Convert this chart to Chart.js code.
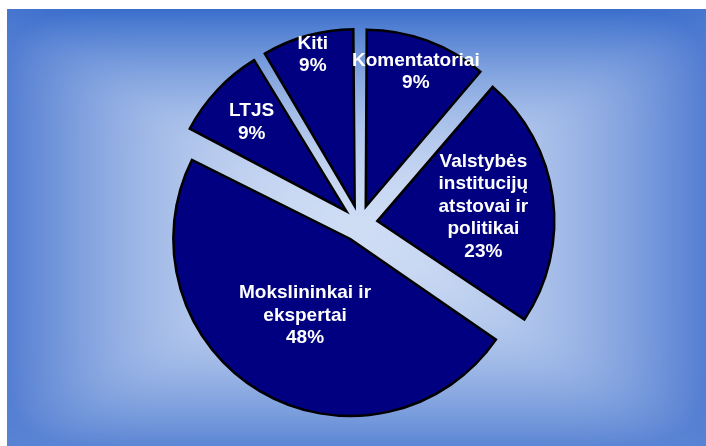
<!DOCTYPE html>
<html>
<head>
<meta charset="utf-8">
<script src="https://cdn.jsdelivr.net/npm/chart.js@4"></script>
<style>
  html, body { margin: 0; padding: 0; background: #fff; }
  #wrap { position: relative; width: 706px; height: 446px; }
</style>
</head>
<body>
<div id="wrap"><canvas id="chart" width="706" height="446"></canvas></div>
<script>
// slices clockwise from 12 o'clock
const categories = [
  'Komentatoriai',
  ['Valstybės', 'institucijų', 'atstovai ir', 'politikai'],
  ['Mokslininkai ir', 'ekspertai'],
  'LTJS',
  'Kiti'
];
// slice sizes as measured on the picture (angles), printed labels below
const sliceShares = [11.3, 23.1, 48.2, 8.8, 8.6];
const shareLabels = ['9%', '23%', '48%', '9%', '9%'];

const PIE_RADIUS = 177;
const EXPLODE = 72;            // chart.js shifts a slice by offset / 4
const labelDist = [162, 125, 107, 148, 175];
const LINE_H = 22.5;

// rectangular "from centre" gradient behind the pie
let bgCache = null;
const backdrop = {
  id: 'backdrop',
  beforeDraw(chart) {
    const ctx = chart.ctx;
    const W = chart.width, H = chart.height;
    if (!bgCache) {
      bgCache = ctx.createImageData(W, H);
      const d = bgCache.data;
      const x0 = 7, y0 = 9;
      const cx = (x0 + W) / 2, cy = (y0 + H) / 2;
      const hw = (W - x0) / 2, hh = (H - y0) / 2;
      const mid = [206, 220, 244];
      const top = [58, 110, 204], bottom = [92, 134, 212], side = [84, 126, 210];
      const P = 10;
      for (let y = 0; y < H; y++) {
        for (let x = 0; x < W; x++) {
          const i = (y * W + x) * 4;
          let c;
          if (x < x0 || y < y0) {
            c = [255, 255, 255];
          } else {
            const tx = Math.abs(x + 0.5 - cx) / hw;
            const ty = Math.abs(y + 0.5 - cy) / hh;
            const px = Math.pow(tx, P), py = Math.pow(ty, P);
            const n = Math.min(1, Math.pow(px + py, 1 / P));
            const t = Math.pow(n, 1.9);
            // blend the edge colour between the side and the top/bottom
            const wy = py / (px + py + 1e-12);
            const vert = y < cy ? top : bottom;
            c = mid.map((m, k) => {
              const e = side[k] + (vert[k] - side[k]) * wy;
              return m + (e - m) * t;
            });
          }
          d[i] = c[0]; d[i + 1] = c[1]; d[i + 2] = c[2]; d[i + 3] = 255;
        }
      }
    }
    ctx.putImageData(bgCache, 0, 0);
  }
};

// chart.js grows small exploded slices, keep all radii equal
const evenRadius = {
  id: 'evenRadius',
  afterDatasetsUpdate(chart) {
    chart.getDatasetMeta(0).data.forEach(arc => {
      const fix = 1 - Math.sin(Math.min(Math.PI, arc.circumference));
      arc.outerRadius = PIE_RADIUS - (EXPLODE / 4) * fix;
    });
  }
};

const sliceLabels = {
  id: 'sliceLabels',
  afterDatasetsDraw(chart) {
    const ctx = chart.ctx;
    ctx.save();
    ctx.fillStyle = '#ffffff';
    ctx.font = 'bold 19px "Liberation Sans", Arial, sans-serif';
    ctx.textAlign = 'center';
    ctx.textBaseline = 'middle';
    chart.getDatasetMeta(0).data.forEach((arc, i) => {
      const mid = (arc.startAngle + arc.endAngle) / 2;
      const x = arc.x + Math.cos(mid) * labelDist[i];
      const y = arc.y + Math.sin(mid) * labelDist[i];
      const lines = [].concat(chart.data.labels[i], shareLabels[i]);
      lines.forEach((line, k) => {
        ctx.fillText(line, x, y + (k - (lines.length - 1) / 2) * LINE_H);
      });
    });
    ctx.restore();
  }
};

new Chart(document.getElementById('chart'), {
  type: 'pie',
  data: {
    labels: categories,
    datasets: [{
      data: sliceShares,
      backgroundColor: '#000080',
      borderColor: '#000000',
      borderWidth: 2.5,
      borderJoinStyle: 'miter',
      offset: EXPLODE,
      radius: PIE_RADIUS
    }]
  },
  options: {
    responsive: false,
    animation: false,
    events: [],
    layout: { padding: { left: 13, right: 0, top: 1, bottom: 0 } },
    plugins: {
      legend: { display: false },
      tooltip: { enabled: false }
    }
  },
  plugins: [backdrop, evenRadius, sliceLabels]
});
</script>
</body>
</html>
